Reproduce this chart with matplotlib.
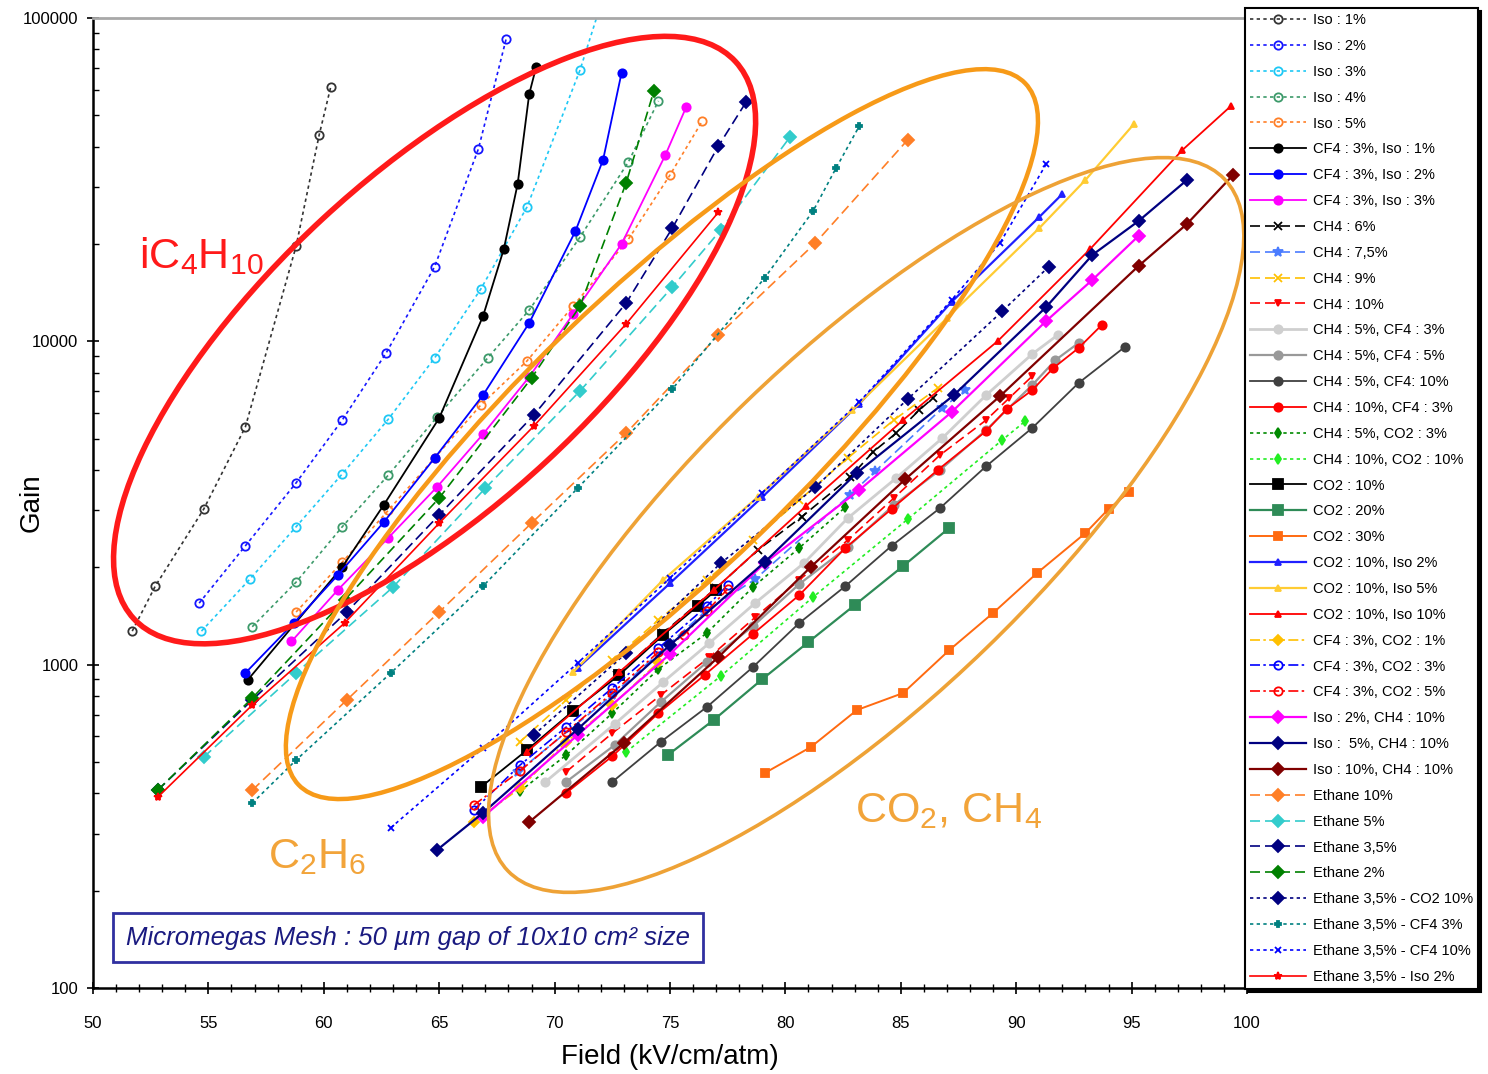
import numpy as np
import matplotlib
matplotlib.use('Agg')
import matplotlib.pyplot as plt
from matplotlib.patches import Ellipse
from matplotlib.transforms import IdentityTransform
from matplotlib.ticker import MultipleLocator, FixedLocator, NullFormatter, LogLocator

plt.rcParams['font.family'] = ['Liberation Sans', 'DejaVu Sans']
plt.rcParams['mathtext.default'] = 'regular'

# ---- data (field kV/cm/atm, gain) ----
iso1_x = [51.7, 52.7, 54.8, 56.6, 58.8, 59.8, 60.3]
iso1_y = [1270, 1750, 3030, 5430, 19700, 43500, 61200]
iso2_x = [54.6, 56.6, 58.8, 60.8, 62.7, 64.8, 66.7, 67.9]
iso2_y = [1550, 2330, 3650, 5710, 9200, 17000, 39400, 86100]
iso3_x = [54.7, 56.8, 58.8, 60.8, 62.8, 64.8, 66.8, 68.8, 71.1, 72.0]
iso3_y = [1270, 1840, 2670, 3890, 5750, 8880, 14500, 26000, 69000, 110000]
iso4_x = [56.9, 58.8, 60.8, 62.8, 64.9, 67.1, 68.9, 71.1, 73.2, 74.5]
iso4_y = [1310, 1800, 2670, 3860, 5830, 8880, 12500, 21000, 35900, 55400]
iso5_x = [58.8, 60.8, 62.8, 64.8, 66.8, 68.8, 70.8, 73.2, 75.0, 76.4]
iso5_y = [1455, 2075, 3005, 4355, 6350, 8690, 12850, 20700, 32700, 48000]
cf4_iso1_x = [56.7, 60.8, 62.6, 65.0, 66.9, 67.8, 68.4, 68.9, 69.2]
cf4_iso1_y = [896, 2005, 3120, 5790, 11970, 19300, 30700, 58200, 70500]
cf4_iso2_x = [56.6, 58.7, 60.6, 62.6, 64.8, 66.9, 68.9, 70.9, 72.1, 72.9]
cf4_iso2_y = [942, 1345, 1890, 2760, 4355, 6820, 11400, 21900, 36400, 67600]
cf4_iso3_x = [58.6, 60.6, 62.8, 64.9, 66.9, 68.9, 70.8, 72.9, 74.8, 75.7]
cf4_iso3_y = [1180, 1700, 2470, 3540, 5165, 7760, 12140, 20000, 37700, 53000]
ch4_6_x = [72.7, 74.7, 77.0, 78.8, 80.7, 82.8, 83.8, 84.8, 85.8, 86.4]
ch4_6_y = [929, 1253, 1726, 2260, 2864, 3800, 4550, 5200, 6130, 6680]
ch4_75_x = [68.4, 72.5, 76.5, 78.7, 82.8, 83.9, 86.8, 87.8]
ch4_75_y = [466, 805, 1455, 1840, 3350, 3970, 6220, 7070]
ch4_9_x = [68.5, 70.5, 72.5, 74.5, 76.6, 78.6, 80.6, 82.7, 84.7, 86.6]
ch4_9_y = [577, 778, 1033, 1374, 1828, 2427, 3228, 4355, 5710, 7170]
ch4_10_x = [70.5, 72.5, 74.6, 76.7, 78.7, 80.6, 82.7, 84.7, 86.7, 88.7, 89.7, 90.7]
ch4_10_y = [466, 614, 805, 1054, 1403, 1828, 2427, 3275, 4450, 5710, 6680, 7810]
ch4_5_cf4_3_x = [69.6, 72.6, 74.7, 76.7, 78.7, 80.8, 82.7, 84.8, 86.8, 88.7, 90.7, 91.8]
ch4_5_cf4_3_y = [434, 655, 883, 1166, 1553, 2060, 2838, 3776, 5020, 6820, 9140, 10460]
ch4_5_cf4_5_x = [70.5, 72.6, 74.6, 76.6, 78.6, 80.6, 82.7, 84.7, 86.7, 88.7, 90.7, 91.7, 92.7]
ch4_5_cf4_5_y = [434, 564, 766, 1018, 1316, 1775, 2312, 3118, 4000, 5320, 7330, 8750, 9880]
ch4_5_cf4_10_x = [72.5, 74.6, 76.6, 78.6, 80.6, 82.6, 84.6, 86.7, 88.7, 90.7, 92.7, 94.7]
ch4_5_cf4_10_y = [434, 577, 740, 984, 1345, 1750, 2330, 3050, 4110, 5400, 7430, 9600]
ch4_10_cf4_3_x = [70.5, 72.5, 74.5, 76.5, 78.6, 80.6, 82.6, 84.6, 86.6, 88.7, 89.6, 90.7, 91.6, 92.7, 93.7]
ch4_10_cf4_3_y = [401, 521, 708, 929, 1245, 1641, 2296, 3030, 4000, 5280, 6180, 7070, 8260, 9530, 11220]
ch4_5_co2_3_x = [68.5, 70.5, 72.5, 74.5, 76.6, 78.6, 80.6, 82.6]
ch4_5_co2_3_y = [406, 525, 708, 969, 1253, 1738, 2296, 3070]
ch4_10_co2_10_x = [73.1, 77.2, 81.2, 85.3, 89.4, 90.4]
ch4_10_co2_10_y = [537, 922, 1618, 2818, 4955, 5670]
co2_10_x = [66.8, 68.8, 70.8, 72.8, 74.7, 76.2, 77.0]
co2_10_y = [418, 544, 719, 929, 1235, 1518, 1702]
co2_20_x = [74.9, 76.9, 79.0, 81.0, 83.0, 85.1, 87.1]
co2_20_y = [525, 675, 902, 1175, 1528, 2018, 2648]
co2_30_x = [79.1, 81.1, 83.1, 85.1, 87.1, 89.0, 90.9, 93.0, 94.0, 94.9]
co2_30_y = [462, 556, 724, 817, 1109, 1445, 1919, 2553, 3030, 3420]
co2_10_iso2_x = [71.0, 75.0, 79.0, 83.2, 87.2, 91.0, 92.0]
co2_10_iso2_y = [976, 1786, 3300, 6400, 13240, 24240, 28560]
co2_10_iso5_x = [70.8, 74.7, 78.8, 82.9, 87.0, 91.0, 93.0, 95.1]
co2_10_iso5_y = [948, 1828, 3300, 6130, 11800, 22400, 31550, 47000]
co2_10_iso10_x = [68.8, 72.8, 76.9, 80.9, 85.1, 89.2, 93.2, 97.2, 99.3]
co2_10_iso10_y = [537, 948, 1702, 3097, 5710, 10020, 19280, 39050, 53400]
cf4_co2_1_x = [66.5, 68.5, 70.5, 72.5, 74.5]
cf4_co2_1_y = [326, 415, 577, 750, 1018]
cf4_co2_3_x = [66.5, 68.5, 70.5, 72.5, 74.5, 76.6, 77.5]
cf4_co2_3_y = [355, 489, 641, 847, 1125, 1518, 1762]
cf4_co2_5_x = [66.5, 68.5, 70.5, 72.5, 74.5, 75.6, 76.6, 77.5]
cf4_co2_5_y = [368, 469, 619, 817, 1094, 1235, 1466, 1714]
iso2_ch4_10_x = [66.9, 71.0, 75.0, 79.1, 83.2, 87.2, 91.3, 93.3, 95.3]
iso2_ch4_10_y = [338, 606, 1079, 2060, 3470, 6040, 11560, 15490, 21180]
iso5_ch4_10_x = [64.9, 66.9, 71.0, 75.0, 79.1, 83.1, 87.3, 91.3, 93.3, 95.3, 97.4]
iso5_ch4_10_y = [267, 348, 632, 1150, 2075, 3920, 6820, 12770, 18500, 23550, 31550]
iso10_ch4_10_x = [68.9, 73.0, 77.1, 81.1, 85.2, 89.3, 95.3, 97.4, 99.4]
iso10_ch4_10_y = [326, 572, 1056, 2005, 3750, 6770, 17100, 23070, 32700]
eth10_x = [56.9, 61.0, 65.0, 69.0, 73.1, 77.1, 81.3, 85.3]
eth10_y = [409, 778, 1455, 2740, 5200, 10450, 20150, 42000]
eth5_x = [54.8, 58.8, 63.0, 67.0, 71.1, 75.1, 77.2, 80.2]
eth5_y = [518, 942, 1738, 3515, 7020, 14720, 22100, 42850]
eth35_x = [52.8, 56.9, 61.0, 65.0, 69.1, 73.1, 75.1, 77.1, 78.3]
eth35_y = [409, 778, 1455, 2905, 5915, 13130, 22400, 40200, 55000]
eth2_x = [52.8, 56.9, 60.9, 65.0, 69.0, 71.1, 73.1, 74.3]
eth2_y = [409, 788, 1585, 3275, 7700, 12850, 30900, 59400]
eth35_co2_x = [69.1, 73.1, 77.2, 81.3, 85.3, 89.4, 91.4]
eth35_co2_y = [606, 1086, 2060, 3540, 6630, 12400, 16980]
eth35_cf4_3_x = [56.9, 58.8, 62.9, 66.9, 71.0, 75.1, 79.1, 81.2, 82.2, 83.2]
eth35_cf4_3_y = [373, 507, 942, 1750, 3515, 7120, 15700, 25300, 34400, 46300]
eth35_cf4_10_x = [62.9, 66.9, 71.0, 75.0, 79.0, 83.2, 87.2, 89.3, 91.3]
eth35_cf4_10_y = [313, 552, 1012, 1852, 3395, 6490, 13420, 20150, 35340]
eth35_iso2_x = [52.8, 56.9, 60.9, 65.0, 69.1, 73.1, 77.1]
eth35_iso2_y = [389, 750, 1345, 2740, 5470, 11320, 25100]

# label, x, y, color, linestyle, marker, filled, linewidth, markersize
dot = (0, (2, 2))
dash = (0, (6, 3))
dashdot = (0, (6, 2, 1.5, 2))
series = [
    ('Iso : 1%', iso1_x, iso1_y, '#333333', dot, 'o', False, 1.2, 6),
    ('Iso : 2%', iso2_x, iso2_y, '#1515ff', dot, 'o', False, 1.2, 6),
    ('Iso : 3%', iso3_x, iso3_y, '#1ec8f5', dot, 'o', False, 1.2, 6),
    ('Iso : 4%', iso4_x, iso4_y, '#3c9a6a', dot, 'o', False, 1.2, 6),
    ('Iso : 5%', iso5_x, iso5_y, '#ff7f27', dot, 'o', False, 1.2, 6),
    ('CF4 : 3%, Iso : 1%', cf4_iso1_x, cf4_iso1_y, 'black', '-', 'o', True, 1.3, 6),
    ('CF4 : 3%, Iso : 2%', cf4_iso2_x, cf4_iso2_y, '#0000ff', '-', 'o', True, 1.3, 6),
    ('CF4 : 3%, Iso : 3%', cf4_iso3_x, cf4_iso3_y, '#ff00ff', '-', 'o', True, 1.3, 6),
    ('CH4 : 6%', ch4_6_x, ch4_6_y, 'black', dash, 'x', True, 1.2, 6),
    ('CH4 : 7,5%', ch4_75_x, ch4_75_y, '#4a7cff', dash, '*', True, 1.2, 7),
    ('CH4 : 9%', ch4_9_x, ch4_9_y, '#ffc000', dash, 'x', True, 1.2, 6),
    ('CH4 : 10%', ch4_10_x, ch4_10_y, '#ff0000', dash, 'v', True, 1.2, 4),
    ('CH4 : 5%, CF4 : 3%', ch4_5_cf4_3_x, ch4_5_cf4_3_y, '#cfcfcf', '-', 'o', True, 2.0, 6),
    ('CH4 : 5%, CF4 : 5%', ch4_5_cf4_5_x, ch4_5_cf4_5_y, '#999999', '-', 'o', True, 1.6, 6),
    ('CH4 : 5%, CF4: 10%', ch4_5_cf4_10_x, ch4_5_cf4_10_y, '#404040', '-', 'o', True, 1.3, 6),
    ('CH4 : 10%, CF4 : 3%', ch4_10_cf4_3_x, ch4_10_cf4_3_y, '#ff0000', '-', 'o', True, 1.3, 6),
    ('CH4 : 5%, CO2 : 3%', ch4_5_co2_3_x, ch4_5_co2_3_y, '#008a00', dot, 'd', True, 1.2, 5),
    ('CH4 : 10%, CO2 : 10%', ch4_10_co2_10_x, ch4_10_co2_10_y, '#22ee22', dot, 'd', True, 1.2, 5),
    ('CO2 : 10%', co2_10_x, co2_10_y, 'black', '-', 's', True, 1.3, 7),
    ('CO2 : 20%', co2_20_x, co2_20_y, '#2e8b57', '-', 's', True, 1.6, 7),
    ('CO2 : 30%', co2_30_x, co2_30_y, '#ff6a10', '-', 's', True, 1.4, 6),
    ('CO2 : 10%, Iso 2%', co2_10_iso2_x, co2_10_iso2_y, '#2020ff', '-', '^', True, 1.6, 5),
    ('CO2 : 10%, Iso 5%', co2_10_iso5_x, co2_10_iso5_y, '#ffcc33', '-', '^', True, 1.6, 5),
    ('CO2 : 10%, Iso 10%', co2_10_iso10_x, co2_10_iso10_y, '#ff0000', '-', '^', True, 1.3, 5),
    ('CF4 : 3%, CO2 : 1%', cf4_co2_1_x, cf4_co2_1_y, '#ffc000', dashdot, 'D', True, 1.2, 5),
    ('CF4 : 3%, CO2 : 3%', cf4_co2_3_x, cf4_co2_3_y, '#0000ff', dashdot, 'o', False, 1.2, 6),
    ('CF4 : 3%, CO2 : 5%', cf4_co2_5_x, cf4_co2_5_y, '#ff0000', dashdot, 'o', False, 1.2, 6),
    ('Iso : 2%, CH4 : 10%', iso2_ch4_10_x, iso2_ch4_10_y, '#ff00ff', '-', 'D', True, 1.6, 6),
    ('Iso :  5%, CH4 : 10%', iso5_ch4_10_x, iso5_ch4_10_y, '#000080', '-', 'D', True, 1.6, 6),
    ('Iso : 10%, CH4 : 10%', iso10_ch4_10_x, iso10_ch4_10_y, '#800000', '-', 'D', True, 1.6, 6),
    ('Ethane 10%', eth10_x, eth10_y, '#ff7f27', dash, 'D', True, 1.2, 6),
    ('Ethane 5%', eth5_x, eth5_y, '#33cccc', dash, 'D', True, 1.2, 6),
    ('Ethane 3,5%', eth35_x, eth35_y, '#000080', dash, 'D', True, 1.2, 6),
    ('Ethane 2%', eth2_x, eth2_y, '#008000', dash, 'D', True, 1.2, 6),
    ('Ethane 3,5% - CO2 10%', eth35_co2_x, eth35_co2_y, '#000080', dot, 'D', True, 1.2, 6),
    ('Ethane 3,5% - CF4 3%', eth35_cf4_3_x, eth35_cf4_3_y, '#008080', dot, 'P', True, 1.2, 5),
    ('Ethane 3,5% - CF4 10%', eth35_cf4_10_x, eth35_cf4_10_y, '#0000ff', dot, 'x', True, 1.2, 5),
    ('Ethane 3,5% - Iso 2%', eth35_iso2_x, eth35_iso2_y, '#ff0000', '-', '*', True, 1.2, 6),
]

fig = plt.figure(figsize=(14.88, 10.74), dpi=100)
ax = fig.add_axes([93/1488, 1 - 988/1074, 1154/1488, 970/1074])

for lab, x, y, c, ls, m, filled, lw, ms in series:
    ax.plot(x, y, color=c, linestyle=ls, marker=m, lw=lw, ms=ms,
            mfc=c if filled else 'none', mec=c, mew=1.3, label=lab)

ax.set_yscale('log')
ax.set_xlim(50, 100)
ax.set_ylim(100, 100000)
ax.xaxis.set_major_locator(MultipleLocator(5))
ax.xaxis.set_minor_locator(MultipleLocator(1))
ax.yaxis.set_major_locator(FixedLocator([100, 1000, 10000, 100000]))
ax.yaxis.set_minor_locator(LogLocator(base=10, subs=np.arange(2, 10)))
ax.yaxis.set_minor_formatter(NullFormatter())
ax.set_yticklabels(['100', '1000', '10000', '100000'])
ax.tick_params(axis='x', which='major', direction='inout', length=9, width=1.2, labelsize=12, pad=16)
ax.tick_params(axis='x', which='minor', direction='inout', length=6, width=1)
ax.tick_params(axis='y', which='major', direction='inout', length=9, width=1.2, labelsize=12, pad=6)
ax.tick_params(axis='y', which='minor', direction='in', length=4, width=1)
ax.spines['left'].set_linewidth(1.8)
ax.spines['bottom'].set_linewidth(1.8)
ax.spines['top'].set_color('#a8a8a8')
ax.spines['top'].set_linewidth(2)
ax.spines['right'].set_visible(False)
ax.set_xlabel('Field (kV/cm/atm)', fontsize=20)
ax.set_ylabel('Gain', fontsize=20)
ax.xaxis.set_label_coords(0.5, -0.058)
ax.yaxis.set_label_coords(-0.042, 0.5)

# region ellipses (center in data coords, size in pixels)
ellipses = [
    ((64.8, 10090), 820, 330, 42.8, '#ff1a1a', 4.0),
    ((74.65, 5165), 1010, 280, 44.0, '#f79a18', 3.2),
    ((83.5, 2704), 996, 344, 44.0, '#eea236', 2.6),
]
for (cx, cy), w, h, ang, col, lw in ellipses:
    px, py = ax.transData.transform((cx, cy))
    ax.add_patch(Ellipse((px, py), w, h, angle=ang, fill=False, ec=col, lw=lw,
                         transform=IdentityTransform(), zorder=5, clip_on=False))

ax.text(52.0, 16850, r'iC$_4$H$_{10}$', color='#ff1a1a', fontsize=31, zorder=6)
ax.text(57.6, 235, r'C$_2$H$_6$', color='#f2a43a', fontsize=31, zorder=6)
ax.text(83.0, 326, r'CO$_2$, CH$_4$', color='#f2a43a', fontsize=31, zorder=6)

ax.text(0.273, 0.052, 'Micromegas Mesh : 50 µm gap of 10x10 cm² size', transform=ax.transAxes,
        ha='center', va='center', fontsize=18.5, color='#1a1a80', fontstyle='italic',
        bbox=dict(boxstyle='square,pad=0.5', fc='white', ec='#3030a0', lw=2), zorder=7)

leg = ax.legend(loc='upper left', bbox_to_anchor=(1245/1488, 1066/1074),
                bbox_transform=fig.transFigure, borderaxespad=0, fontsize=10.5,
                labelspacing=0.813, handlelength=3.8, handletextpad=0.5, numpoints=1,
                fancybox=False, edgecolor='black', framealpha=1, borderpad=0.35,
                shadow={'color': 'black', 'alpha': 1})
leg.get_frame().set_linewidth(1.5)

fig.savefig('out.png', dpi=100)
